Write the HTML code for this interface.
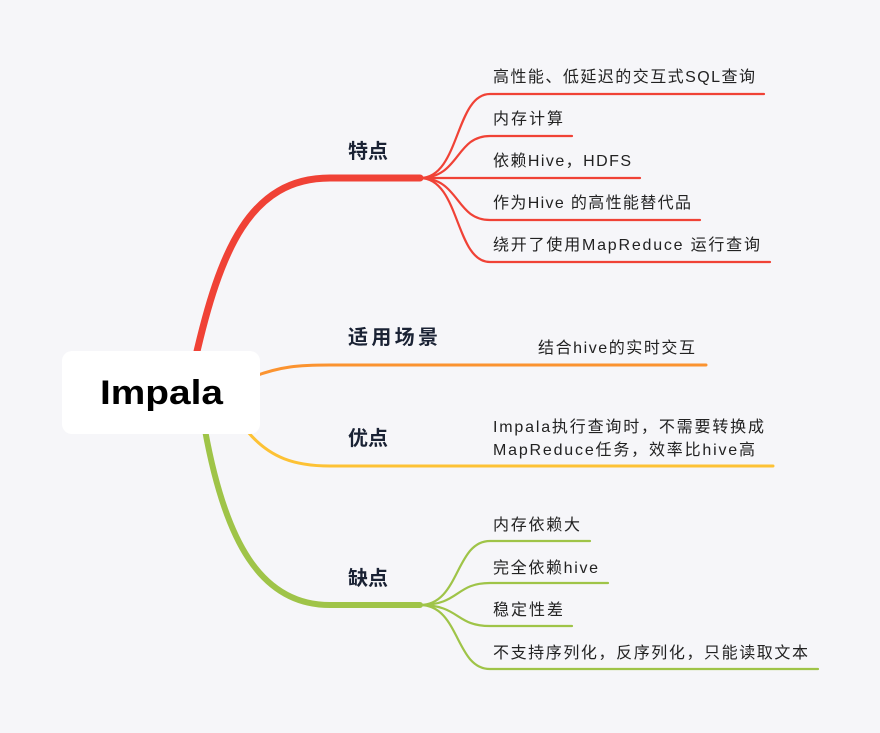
<!DOCTYPE html>
<html><head><meta charset="utf-8"><style>
body{margin:0;width:880px;height:733px;background:#f6f6f9;overflow:hidden}
svg{position:absolute;left:0;top:0}
text{font-family:"Liberation Sans","Noto Sans CJK SC",sans-serif}
</style></head><body>
<svg width="880" height="733" viewBox="0 0 880 733">
<g fill="none" stroke-linecap="round">
<path d="M195,360 C220,250 250,178 330,178 L420,178" stroke="#f04236" stroke-width="7"/>
<path d="M250,378 C280,366 300,365 330,365 L706,365" stroke="#fb9330" stroke-width="3"/>
<path d="M248,432 C270,458 295,466 330,466 L773,466" stroke="#fdc235" stroke-width="3"/>
<path d="M205,430 C225,540 260,605 330,605 L420,605" stroke="#9fc448" stroke-width="6"/>
<g stroke="#f04236" stroke-width="2.2">
<path d="M420,178 C460,178 455,94 490,94 L764,94"/>
<path d="M420,178 C460,178 455,136 490,136 L572,136"/>
<path d="M420,178 L640,178"/>
<path d="M420,178 C460,178 455,220 490,220 L700,220"/>
<path d="M420,178 C460,178 455,262 490,262 L770,262"/>
</g>
<g stroke="#9fc448" stroke-width="2.2">
<path d="M420,605 C460,605 455,541 490,541 L590,541"/>
<path d="M420,605 C460,605 455,583 490,583 L608,583"/>
<path d="M420,605 C460,605 455,626 490,626 L572,626"/>
<path d="M420,605 C460,605 455,669 490,669 L818,669"/>
</g>
</g>
<rect x="62" y="351" width="198" height="83" rx="10" fill="#fff"/>
<text x="100" y="404" font-size="34" font-weight="bold" fill="#000" textLength="123" lengthAdjust="spacingAndGlyphs">Impala</text>
<g font-size="20" font-weight="bold" fill="#1a2234">
<text x="348" y="158">特点</text>
<text x="348" y="344" textLength="90">适用场景</text>
<text x="348" y="445">优点</text>
<text x="348" y="585">缺点</text>
</g>
<g font-size="16" fill="#222" lengthAdjust="spacing">
<text x="493" y="82" textLength="262">高性能、低延迟的交互式SQL查询</text>
<text x="493" y="124" textLength="70">内存计算</text>
<text x="493" y="166" textLength="138">依赖Hive，HDFS</text>
<text x="493" y="208" textLength="198">作为Hive 的高性能替代品</text>
<text x="493" y="250" textLength="267">绕开了使用MapReduce 运行查询</text>
<text x="538" y="353" textLength="157">结合hive的实时交互</text>
<text x="493" y="432" textLength="271">Impala执行查询时，不需要转换成</text>
<text x="493" y="455" textLength="262">MapReduce任务，效率比hive高</text>
<text x="493" y="530" textLength="87">内存依赖大</text>
<text x="493" y="573" textLength="105">完全依赖hive</text>
<text x="493" y="615" textLength="70">稳定性差</text>
<text x="493" y="658" textLength="315">不支持序列化，反序列化，只能读取文本</text>
</g>
</svg>
</body></html>
